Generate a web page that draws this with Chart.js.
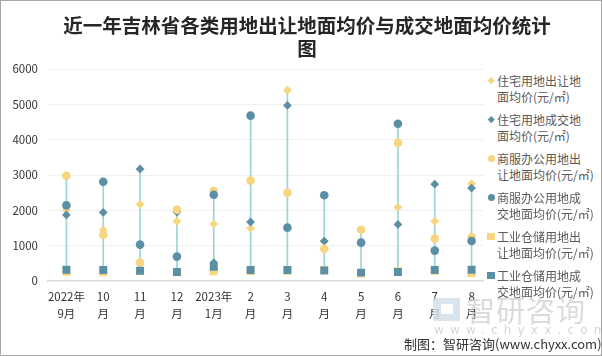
<!DOCTYPE html>
<html>
<head>
<meta charset="utf-8">
<script src="https://cdn.jsdelivr.net/npm/chart.js@4.4.0/dist/chart.umd.min.js"></script>
<style>
html,body{margin:0;padding:0;background:#fff;}
#wrap{position:relative;width:602px;height:356px;overflow:hidden;font-family:"Noto Sans CJK SC","Noto Sans",sans-serif;}
#c{position:absolute;left:0;top:0;z-index:1;}
#frame{position:absolute;left:0;top:0;width:600px;height:354px;border:1px solid #a6a6a6;z-index:6;pointer-events:none;}
#title{position:absolute;left:0;width:614px;top:13px;text-align:center;font-weight:bold;font-size:19.5px;line-height:23px;color:#262626;z-index:5;}
#cover{position:absolute;left:484px;top:60px;width:117px;height:235px;background:#fff;z-index:2;}
#legend{position:absolute;left:0;top:0;z-index:5;}
.li{position:absolute;left:497px;font-size:12px;line-height:16px;color:#595959;white-space:nowrap;}
.mk{position:absolute;}
#wm{position:absolute;left:466px;top:293px;font-size:29px;line-height:32px;color:#cfcfcf;z-index:3;opacity:0.75;letter-spacing:1px;}
#wm2{position:absolute;left:434px;top:323px;font-size:12px;line-height:14px;color:#d6d6d6;z-index:3;letter-spacing:6.2px;font-family:"DejaVu Sans",sans-serif;}
#logo{position:absolute;left:433px;top:298px;width:27px;height:23px;background:#d3dfea;border-radius:2px;z-index:3;opacity:0.85;}
#logo2{position:absolute;left:441px;top:304px;width:12px;height:10px;background:#fff;z-index:3;}
#footer{position:absolute;left:404px;top:335px;font-size:13px;line-height:17px;color:#333;z-index:5;white-space:nowrap;}
</style>
</head>
<body>
<div id="wrap">
  <canvas id="c" width="602" height="356"></canvas>
  <div id="cover"></div>
  <div id="logo"></div><div id="logo2"></div>
  <div id="wm">智研咨询</div>
  <div id="wm2">www.chyxx.com</div>
  <div id="title">近一年吉林省各类用地出让地面均价与成交地面均价统计<br>图</div>
  <div id="legend"></div>
  <div id="footer">制图：智研咨询(www.chyxx.com)</div>
  <div id="frame"></div>
</div>
<script>
// ---- data ----
const categories = [
  ["2022年","9月"],["10","月"],["11","月"],["12","月"],["2023年","1月"],
  ["2","月"],["3","月"],["4","月"],["5","月"],["6","月"],["7","月"],["8","月"]
];
const seriesNames = [
  "住宅用地出让地面均价(元/㎡)",
  "住宅用地成交地面均价(元/㎡)",
  "商服办公用地出让地面均价(元/㎡)",
  "商服办公用地成交地面均价(元/㎡)",
  "工业仓储用地出让地面均价(元/㎡)",
  "工业仓储用地成交地面均价(元/㎡)"
];
const residentialListed = [2010, 1440, 2170, 1690, 1610, 1490, 5400, 1120, 1080, 2090, 1690, 2755];
const residentialDeal   = [1870, 1940, 3170, 1950,  520, 1670, 4970, 1130, 1080, 1600, 2740, 2630];
const commercialListed  = [2980, 1300,  520, 2020, 2550, 2840, 2500,  910, 1450, 3910, 1200, 1245];
const commercialDeal    = [2140, 2810, 1030,  690, 2440, 4680, 1510, 2425, 1085, 4450,  860, 1130];
const industrialListed  = [ 260,  250,  280,  250,  275,  280,  290,  320,  210,  280,  290,  220];
const industrialDeal    = [ 320,  310,  290,  255,  400,  310,  310,  295,  236,  255,  310,  320];
const yTicks = [0, 1000, 2000, 3000, 4000, 5000, 6000];

// ---- styles ----
const YELLOW = '#F8D57F';
const BLUE = '#5B8FA6';
const STEM = '#9AD6D4';
const FONT = '"Noto Sans CJK SC","Noto Sans",sans-serif';

const allSeries = [residentialListed, residentialDeal, commercialListed, commercialDeal, industrialListed, industrialDeal];
const colors = [YELLOW, BLUE, YELLOW, BLUE, YELLOW, BLUE];
const styles = ['rectRot','rectRot','circle','circle','rect','rect'];
const radii = [4.4, 4.4, 4.3, 4.3, 5.6, 5.6];

const ranges = categories.map((_, i) => {
  const vals = allSeries.map(s => s[i]);
  return [Math.min(...vals), Math.max(...vals)];
});

const datasets = [{
  type: 'bar',
  label: 'range',
  data: ranges,
  backgroundColor: STEM,
  borderWidth: 0,
  barThickness: 1,
  order: 10
}];
allSeries.forEach((s, k) => {
  datasets.push({
    type: 'line',
    label: seriesNames[k],
    data: s,
    showLine: false,
    pointStyle: styles[k],
    pointRadius: radii[k],
    pointBackgroundColor: colors[k],
    pointBorderColor: colors[k],
    pointBorderWidth: 0,
    order: 6 - k
  });
});

new Chart(document.getElementById('c'), {
  type: 'bar',
  data: { labels: categories, datasets },
  options: {
    responsive: false,
    animation: false,
    devicePixelRatio: 1,
    layout: { padding: { top: 69, right: 112, left: 0, bottom: 0 } },
    plugins: { legend: { display: false }, tooltip: { enabled: false }, title: { display: false } },
    scales: {
      x: {
        grid: { display: false, drawTicks: false },
        border: { color: '#d9d9d9', width: 1.5 },
        ticks: { padding: 8, color: '#333', maxRotation: 0, autoSkip: false,
                 font: { size: 11.5, family: FONT, lineHeight: 1.4 } },
        afterFit(s) { s.height = 75; }
      },
      y: {
        min: yTicks[0], max: yTicks[yTicks.length - 1],
        afterBuildTicks(s) { s.ticks = yTicks.map(v => ({ value: v })); },
        ticks: { padding: 10, color: '#333', font: { size: 11.5, family: FONT },
                 callback: v => String(v) },
        grid: { drawTicks: false, color: c => c.tick && c.tick.value === 0 ? 'rgba(0,0,0,0)' : '#f0f0f0' },
        border: { display: false },
        afterFit(s) { s.width = 48; }
      }
    }
  }
});

// ---- legend ----
const leg = document.getElementById('legend');
seriesNames.forEach((name, k) => {
  const cy = 80.7 + 39 * k;
  const t = document.createElement('div');
  t.className = 'li';
  t.style.top = (cy - 8) + 'px';
  t.innerHTML = name.slice(0, 7) + '<br>' + name.slice(7);
  leg.appendChild(t);
  const m = document.createElement('div');
  m.className = 'mk';
  m.style.background = colors[k];
  let sz;
  if (styles[k] === 'rectRot') { sz = 4.5; m.style.transform = 'rotate(45deg)'; }
  else if (styles[k] === 'circle') { sz = 7; m.style.borderRadius = '50%'; }
  else { sz = 7.5; }
  m.style.width = sz + 'px';
  m.style.height = sz + 'px';
  m.style.left = (491 - sz / 2) + 'px';
  m.style.top = (cy - sz / 2) + 'px';
  leg.appendChild(m);
});
</script>
</body>
</html>
